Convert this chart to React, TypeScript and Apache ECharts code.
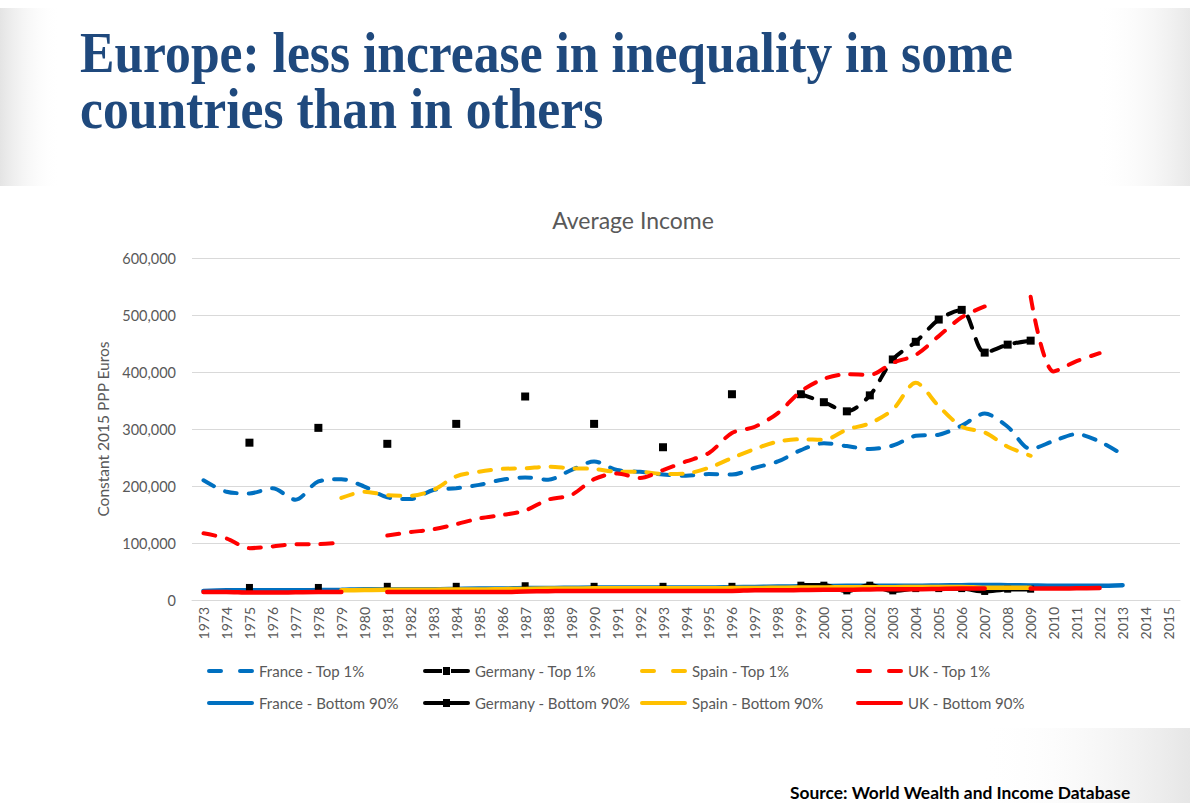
import React, { useEffect, useRef } from 'react';
import * as echarts from 'echarts';

const years = [
  '1973', '1974', '1975', '1976', '1977', '1978', '1979', '1980', '1981', '1982',
  '1983', '1984', '1985', '1986', '1987', '1988', '1989', '1990', '1991', '1992',
  '1993', '1994', '1995', '1996', '1997', '1998', '1999', '2000', '2001', '2002',
  '2003', '2004', '2005', '2006', '2007', '2008', '2009', '2010', '2011', '2012',
  '2013', '2014', '2015',
];

const yTicks = [0, 100000, 200000, 300000, 400000, 500000, 600000];

const _ = null;

// Top 1%
const franceTop = [
  210000, 190000, 187000, 196000, 176000, 208000, 212000, 199000, 180000, 177000,
  193000, 196000, 202000, 211000, 215000, 211000, 228000, 243000, 228000, 225000,
  220000, 218000, 221000, 220000, 232000, 243000, 263000, 275000, 270000, 265000,
  271000, 288000, 290000, 306000, 327000, 304000, 265000, 279000, 291000, 278000,
  255000, _, _,
];
const germanyTop = [
  _, _, 276000, _, _, 302000, _, _, 274000, _,
  _, 309000, _, _, 357000, _, _, 309000, _, _,
  268000, _, _, 361000, _, _, 361000, 347000, 331000, 359000,
  422000, 453000, 492000, 509000, 434000, 448000, 455000, _, _, _,
  _, _, _,
];
const spainTop = [
  _, _, _, _, _, _, 179000, 190000, 184000, 183000,
  193000, 217000, 225000, 230000, 231000, 234000, 231000, 230000, 225000, 225000,
  221000, 222000, 232000, 249000, 265000, 278000, 282000, 281000, 299000, 310000,
  334000, 381000, 340000, 304000, 294000, 269000, 253000, _, _, _,
  _, _, _,
];
const ukTop = [
  117000, 108000, 91000, 94000, 98000, 98000, 101000, _, 113000, 119000,
  124000, 133000, 143000, 149000, 157000, 176000, 184000, 212000, 222000, 214000,
  228000, 243000, 258000, 293000, 304000, 328000, 366000, 388000, 396000, 395000,
  416000, 430000, 463000, 496000, 515000, _, 532000, 401000, 419000, 433000,
  _, _, _,
];

// Bottom 90%
const franceBottom = [
  16000, 17000, 17000, 17000, 17000, 17500, 18000, 19000, 19000, 19000,
  19000, 19500, 20000, 20000, 21000, 21000, 21500, 22000, 22000, 22000,
  22000, 22000, 22000, 22500, 23000, 23500, 24000, 24500, 25000, 25000,
  25000, 25000, 25500, 26000, 26500, 26000, 25500, 25000, 25000, 25000,
  26000, _, _,
];
const germanyBottom = [
  _, _, 22000, _, _, 22000, _, _, 24000, _,
  _, 24000, _, _, 25000, _, _, 24000, _, _,
  24000, _, _, 24000, _, _, 26000, 26000, 16000, 26000,
  16000, 20000, 20000, 20000, 15000, 19000, 19000, _, _, _,
  _, _, _,
];
const spainBottom = [
  _, _, _, _, _, _, 17000, 17500, 18000, 18000,
  18000, 18500, 18500, 19000, 19500, 20000, 20000, 20500, 20500, 20500,
  20500, 20500, 20500, 21000, 21000, 21500, 22000, 22000, 22500, 22500,
  22500, 23000, 23000, 23000, 21500, 21500, 21500, _, _, _,
  _, _, _,
];
const ukBottom = [
  14000, 14000, 13000, 13000, 13500, 14000, 14000, _, 14000, 14000,
  14000, 14000, 14000, 14000, 15000, 15500, 16000, 16000, 16000, 16000,
  16000, 16000, 16000, 16000, 17000, 17000, 17500, 18000, 18000, 18500,
  19000, 19000, 19500, 20000, 20000, _, 20000, 20000, 20500, 21000,
  _, _, _,
];

const seriesNames = [
  'France - Top 1%', 'Germany - Top 1%', 'Spain - Top 1%', 'UK - Top 1%',
  'France - Bottom 90%', 'Germany - Bottom 90%', 'Spain - Bottom 90%', 'UK - Bottom 90%',
];
const seriesData = [franceTop, germanyTop, spainTop, ukTop, franceBottom, germanyBottom, spainBottom, ukBottom];
const colors = ['#0070C0', '#000000', '#FFC000', '#FF0000'];

const FONT = 'Lato, "Open Sans", sans-serif';
const GREY = '#595959';

// legend glyphs
const ICON_DASH = 'path://M2,0H14A2,2 0 0 1 14,4H2A2,2 0 0 1 2,0Z M33,0H45A2,2 0 0 1 45,4H33A2,2 0 0 1 33,0Z';
const ICON_SOLID = 'path://M2,0H45A2,2 0 0 1 45,4H2A2,2 0 0 1 2,0Z';
const ICON_GER_TOP = 'path://M2,2H19V6H2A2,2 0 0 1 2,2Z M20,0H27V8H20Z M28,2H45A2,2 0 0 1 45,6H28Z';
const ICON_GER_BOT = 'path://M2,2H20V6H2A2,2 0 0 1 2,2Z M20,0H27V8H20Z M27,2H45A2,2 0 0 1 45,6H27Z';

export default function App() {
  const ref = useRef<HTMLDivElement>(null);
  useEffect(() => {
    if (!ref.current) return;
    const chart = echarts.init(ref.current, null, { renderer: 'svg' });

    const series = seriesNames.map((name, i) => {
      const isTop = i < 4;
      const color = colors[i % 4];
      const isGermany = i % 4 === 1;
      return {
        name,
        type: 'line',
        data: seriesData[i],
        smooth: 0.3,
        connectNulls: false,
        symbol: isGermany ? 'rect' : 'none',
        symbolSize: isGermany ? (isTop ? 8 : 7) : 0,
        showSymbol: isGermany,
        showAllSymbol: true,
        itemStyle: { color },
        lineStyle: {
          color,
          width: isTop ? 4 : 4.5,
          type: isTop ? [12, 12] : 'solid',
          cap: 'round',
        },
        emphasis: { disabled: true },
        z: 2 + i,
      };
    });

    const colX = [207, 423, 640, 856];
    const rowY = [671, 703];
    const legends = seriesNames.map((name, i) => {
      const isTop = i < 4;
      const isGermany = i % 4 === 1;
      const icon = isGermany ? (isTop ? ICON_GER_TOP : ICON_GER_BOT) : isTop ? ICON_DASH : ICON_SOLID;
      const h = isGermany ? 8 : 4;
      return {
        data: [{ name, icon }],
        left: colX[i % 4],
        top: rowY[Math.floor(i / 4)] - 9,
        itemWidth: 47,
        itemHeight: h,
        itemGap: 0,
        padding: 0,
        selectedMode: false,
        textStyle: { color: GREY, fontSize: 15, fontFamily: FONT, height: 18, lineHeight: 18 },
      };
    });

    const fadeH = (from: string, to: string) =>
      new echarts.graphic.LinearGradient(0, 0, 1, 0, [
        { offset: 0, color: from },
        { offset: 1, color: to },
      ]);

    chart.setOption({
      animation: false,
      backgroundColor: '#ffffff',
      textStyle: { fontFamily: FONT },
      graphic: [
        {
          type: 'rect', silent: true, z: -10,
          shape: { x: 0, y: 8, width: 60, height: 178 },
          style: { fill: fadeH('#e4e4e4', 'rgba(255,255,255,0)') },
        },
        {
          type: 'rect', silent: true, z: -10,
          shape: { x: 1095, y: 8, width: 95, height: 178 },
          style: { fill: fadeH('rgba(255,255,255,0)', '#e8e8e8') },
        },
        {
          type: 'rect', silent: true, z: -10,
          shape: { x: 980, y: 728, width: 210, height: 75 },
          style: { fill: fadeH('rgba(255,255,255,0)', '#e6e6e6') },
        },
        {
          type: 'text', x: 80, y: 52, scaleX: 0.89, silent: true,
          style: {
            text: 'Europe: less increase in inequality in some',
            font: 'bold 58px "Liberation Serif", serif',
            fill: '#1F497D',
            verticalAlign: 'middle',
          },
        },
        {
          type: 'text', x: 80, y: 108, scaleX: 0.89, silent: true,
          style: {
            text: 'countries than in others',
            font: 'bold 58px "Liberation Serif", serif',
            fill: '#1F497D',
            verticalAlign: 'middle',
          },
        },
        {
          type: 'text', x: 633, y: 220, silent: true,
          style: {
            text: 'Average Income',
            font: '23px Lato, sans-serif',
            fill: GREY,
            align: 'center',
            verticalAlign: 'middle',
          },
        },
        {
          type: 'text', x: 790, y: 792, silent: true,
          style: {
            text: 'Source: World Wealth and Income Database',
            font: 'bold 17.4px Lato, sans-serif',
            fill: '#000000',
            align: 'left',
            verticalAlign: 'middle',
          },
        },
      ],
      grid: { left: 192, right: 10, top: 258, bottom: 203, containLabel: false },
      legend: legends,
      xAxis: {
        type: 'category',
        data: years,
        boundaryGap: true,
        axisLine: { show: true, lineStyle: { color: '#d9d9d9', width: 1 } },
        axisTick: { show: false },
        axisLabel: {
          rotate: 90,
          interval: 0,
          fontSize: 14,
          color: GREY,
          fontFamily: FONT,
          margin: 7,
        },
        splitLine: { show: false },
      },
      yAxis: {
        type: 'value',
        min: yTicks[0],
        max: yTicks[yTicks.length - 1],
        interval: 100000,
        name: 'Constant 2015 PPP Euros',
        nameLocation: 'middle',
        nameGap: 80,
        nameRotate: 90,
        nameTextStyle: { color: GREY, fontSize: 15.5, fontFamily: FONT },
        axisLine: { show: false },
        axisTick: { show: false },
        axisLabel: {
          color: GREY,
          fontSize: 14.5,
          fontFamily: FONT,
          margin: 16,
          formatter: (v: number) => v.toLocaleString('en-US'),
        },
        splitLine: { lineStyle: { color: '#d9d9d9', width: 1 } },
      },
      series,
    });
    return () => chart.dispose();
  }, []);
  return (
    <div
      ref={ref}
      style={{ position: 'absolute', left: 0, top: 0, width: 1190, height: 803 }}
    />
  );
}
